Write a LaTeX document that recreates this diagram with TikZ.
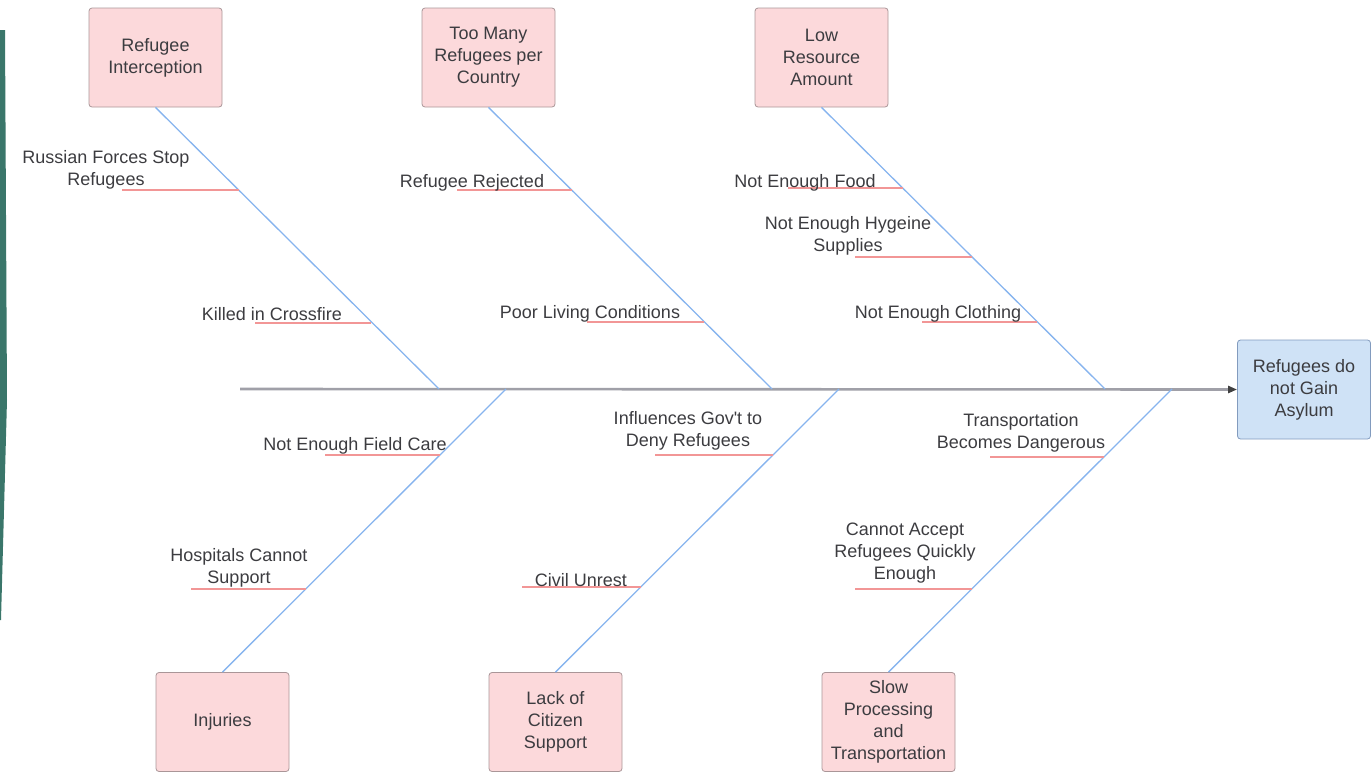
\documentclass[tikz,border=0pt]{standalone}
\usepackage{fontspec}
\setmainfont{Liberation Sans}
\usetikzlibrary{arrows.meta}
\definecolor{pinkfill}{RGB}{252,217,219}
\definecolor{pinkdraw}{RGB}{170,150,152}
\definecolor{bluefill}{RGB}{207,226,246}
\definecolor{bluedraw}{RGB}{130,155,190}
\definecolor{bonecol}{RGB}{135,180,238}
\definecolor{ulcol}{RGB}{242,150,150}
\definecolor{spinecol}{RGB}{160,160,168}
\definecolor{txtcol}{RGB}{60,60,64}
\definecolor{teal}{RGB}{58,118,106}
\tikzset{
  causebox/.style={draw=pinkdraw, fill=pinkfill, line width=0.8pt, rounded corners=3pt,
    minimum width=133pt, minimum height=99pt, inner sep=0pt, align=center, text=txtcol},
  effectbox/.style={causebox, draw=bluedraw, fill=bluefill},
  lbl/.style={inner sep=0pt, align=center, text=txtcol, yshift=-2pt},
  bone/.style={draw=bonecol, line width=1.3pt},
  uline/.style={draw=ulcol, line width=1.6pt},
  spine/.style={draw=spinecol, line width=2.6pt}
}
\begin{document}
\begin{tikzpicture}[x=1pt,y=-1pt,font=\fontsize{18}{22}\selectfont]
\useasboundingbox (0,0) rectangle (1371,772);
% decorative stripe
\fill[teal] (0,30) -- (5,30) -- (7,400) -- (1,620) -- (0,620) -- cycle;

% effect
\node[effectbox] (eff) at (1304,389.5) {Refugees do\\not Gain\\Asylum};
% cause boxes
\node[causebox] (c1) at (155.5,57.5) {Refugee\\Interception};
\node[causebox] (c2) at (488.5,57.5) {Too Many\\Refugees per\\Country};
\node[causebox] (c3) at (821.5,57.5) {Low\\Resource\\Amount};
\node[causebox] (c4) at (222.5,722) {Injuries};
\node[causebox] (c5) at (555.5,722) {Lack of\\Citizen\\Support};
\node[causebox] (c6) at (888.5,722) {Slow\\Processing\\and\\Transportation};

% spine
\coordinate (s0) at (240,389);
\draw[spine, -{Triangle[length=9pt,width=7pt,color=black!75]}] (s0) -- (eff.west);

% bone ends on spine
\coordinate (b1) at (439,389);
\coordinate (b2) at (772,389);
\coordinate (b3) at (1105,389);
\coordinate (b4) at (506,389);
\coordinate (b5) at (839,389);
\coordinate (b6) at (1172,389);
\draw[bone] (c1.south) -- (b1);
\draw[bone] (c2.south) -- (b2);
\draw[bone] (c3.south) -- (b3);
\draw[bone] (c4.north) -- (b4);
\draw[bone] (c5.north) -- (b5);
\draw[bone] (c6.north) -- (b6);

% sub-bone underlines
\coordinate (u1a) at (122,190);  \coordinate (u1b) at (238.5,190);
\coordinate (u2a) at (255,323);  \coordinate (u2b) at (371,323);
\coordinate (u3a) at (457,190);  \coordinate (u3b) at (571.5,190);
\coordinate (u4a) at (587,322);  \coordinate (u4b) at (703.5,322);
\coordinate (u5a) at (788,188);  \coordinate (u5b) at (902.5,188);
\coordinate (u6a) at (855,257);  \coordinate (u6b) at (971.5,257);
\coordinate (u7a) at (922,322);  \coordinate (u7b) at (1036.5,322);
\coordinate (u8a) at (325,455);  \coordinate (u8b) at (440,455);
\coordinate (u9a) at (191,589);  \coordinate (u9b) at (306,589);
\coordinate (u10a) at (655,455); \coordinate (u10b) at (773,455);
\coordinate (u11a) at (522,587); \coordinate (u11b) at (641,587);
\coordinate (u12a) at (990,457); \coordinate (u12b) at (1104,457);
\coordinate (u13a) at (855,589); \coordinate (u13b) at (972,589);
\foreach \i in {1,...,13} { \draw[uline] (u\i a) -- (u\i b); }

% labels
\node[lbl] (l1) at (106,168) {Russian Forces Stop\\Refugees};
\node[lbl] (l2) at (272,312) {Killed in Crossfire};
\node[lbl] (l3) at (472,181) {Refugee Rejected};
\node[lbl] (l4) at (590,312) {Poor Living Conditions};
\node[lbl] (l5) at (805,181) {Not Enough Food};
\node[lbl] (l6) at (848,234) {Not Enough Hygeine\\Supplies};
\node[lbl] (l7) at (938,312) {Not Enough Clothing};
\node[lbl] (l8) at (355,444) {Not Enough Field Care};
\node[lbl] (l9) at (239,565.5) {Hospitals Cannot\\Support};
\node[lbl] (l10) at (688,429) {Influences Gov\textquotesingle t to\\Deny Refugees};
\node[lbl] (l11) at (581,578) {Civil Unrest};
\node[lbl] (l12) at (1021,431) {Transportation\\Becomes Dangerous};
\node[lbl] (l13) at (905,551) {Cannot Accept\\Refugees Quickly\\Enough};
\end{tikzpicture}
\end{document}
